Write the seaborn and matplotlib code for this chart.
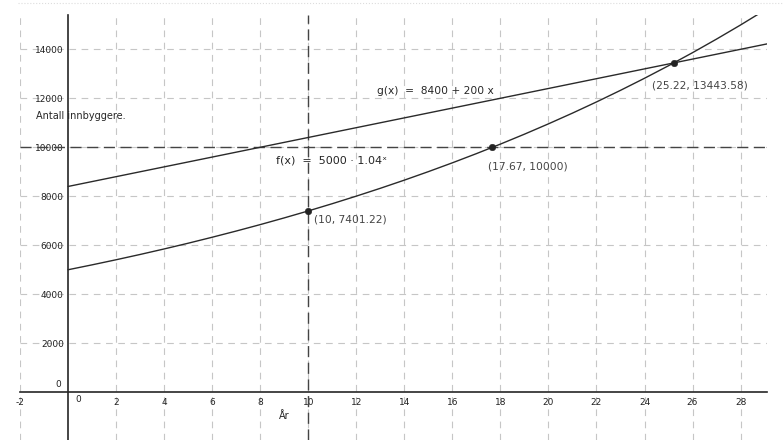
import numpy as np
import pandas as pd
import matplotlib
matplotlib.use("Agg")
import matplotlib.pyplot as plt
from matplotlib.lines import Line2D
import seaborn as sns

# =========================
# DATA
# =========================
years = list(range(0, 30))
f_values = [5000, 5200, 5408, 5624, 5849, 6083, 6327, 6580, 6843, 7117,
            7401, 7697, 8005, 8325, 8658, 9005, 9365, 9740, 10129, 10534,
            10956, 11394, 11850, 12324, 12817, 13329, 13862, 14417, 14993, 15593]
g_years = [0, 29.2]
g_values = [8400, 14240]

point_x = [10, 17.67, 25.22]
point_y = [7401.22, 10000, 13443.58]
point_labels = ["(10, 7401.22)", "(17.67, 10000)", "(25.22, 13443.58)"]

x_ticks = [-2, 2, 4, 6, 8, 10, 12, 14, 16, 18, 20, 22, 24, 26, 28]
y_ticks = [2000, 4000, 6000, 8000, 10000, 12000, 14000]

f_df = pd.DataFrame({"x": years, "y": f_values})
g_df = pd.DataFrame({"x": g_years, "y": g_values})
p_df = pd.DataFrame({"x": point_x, "y": point_y})

# =========================
# FIGURE
# =========================
sns.set_style("white")
plt.rcParams["font.family"] = ["DejaVu Sans"]

fig = plt.figure(figsize=(7.84, 4.40), dpi=100)
ax = fig.add_axes([20 / 784, 0, 747 / 784, 425 / 440])
ax.set_xlim(-2.0, 29.1)
ax.set_ylim(-1950, 15400)

# grid
grid_style = dict(color="#c6c6c6", lw=0.8, ls=(0, (6, 5)), zorder=0)
for gx in range(-2, 30, 2):
    if gx != 0:
        ax.axvline(gx, **grid_style)
for gy in range(2000, 16000, 2000):
    ax.axhline(gy, **grid_style)

# dashed guides
ax.axvline(10, color="#444444", lw=1.0, ls=(0, (8, 4)), zorder=1)
ax.axhline(10000, color="#444444", lw=1.0, ls=(0, (8, 4)), zorder=1)

# curves
sns.lineplot(data=g_df, x="x", y="y", ax=ax, color="#2a2a2a", lw=1.0, zorder=3)
sns.lineplot(data=f_df, x="x", y="y", ax=ax, color="#2a2a2a", lw=1.0, zorder=3)
sns.scatterplot(data=p_df, x="x", y="y", ax=ax, color="#222222", s=22,
                edgecolor="#222222", zorder=4)

# axes through origin
for s in ["top", "right"]:
    ax.spines[s].set_visible(False)
ax.spines["left"].set_position(("data", 0))
ax.spines["bottom"].set_position(("data", 0))
ax.spines["left"].set_linewidth(1.2)
ax.spines["bottom"].set_linewidth(1.2)
ax.spines["left"].set_zorder(2)
ax.spines["bottom"].set_zorder(2)

ax.set_xticks(x_ticks)
ax.set_yticks(y_ticks)
ax.set_xticklabels([str(t) for t in x_ticks])
ax.set_yticklabels([str(t) for t in y_ticks])
ax.tick_params(axis="both", direction="out", length=2.5, width=0.8,
               labelsize=6.5, colors="#222222", pad=0.5)
ax.tick_params(axis="x", pad=1.5)
ax.text(0.3, -130, "0", fontsize=6.5, ha="left", va="top", color="#222222")
ax.text(-0.3, 120, "0", fontsize=6.5, ha="right", va="bottom", color="#222222")

ax.set_xlabel("")
ax.set_ylabel("")

# labels
ax.text(-1.35, 11278, "Antall innbyggere.", fontsize=7, va="center", ha="left")
ax.text(8.78, -967, "År", fontsize=7, va="center", ha="left")
ax.text(12.85, 12310, "g(x)  =  8400 + 200 x", fontsize=7.7, va="center", ha="left")
ax.text(8.65, 9453, "f(x)  =  5000 · 1.04ˣ", fontsize=8, va="center", ha="left")

label_pos = [(10.25, 7061), (17.5, 9208), (24.33, 12502)]
for (lx, ly), lab in zip(label_pos, point_labels):
    ax.text(lx, ly, lab, fontsize=7.7, color="#444444", va="center", ha="left")

fig.add_artist(Line2D([18 / 784, 1], [1 - 3 / 440, 1 - 3 / 440],
                      color="#dddddd", lw=0.8, ls=":"))

fig.savefig("out.png", dpi=100)
